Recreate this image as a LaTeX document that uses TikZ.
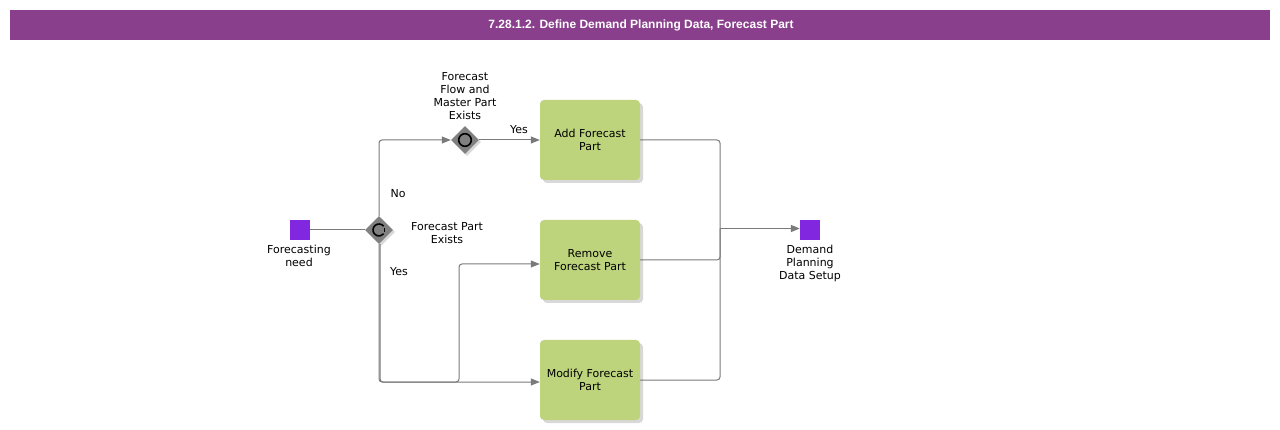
\documentclass[tikz,border=0pt]{standalone}
\usepackage{fontspec}
\setmainfont{DejaVu Sans}
\newfontfamily\titlefont{Liberation Sans}
\usetikzlibrary{shapes.geometric,arrows.meta,shadows}
\definecolor{titlebg}{HTML}{8A3F8C}
\definecolor{evpurple}{HTML}{8227E0}
\definecolor{taskgreen}{HTML}{BDD37C}
\definecolor{linegrey}{HTML}{7A7A7A}
\definecolor{gwgrey}{HTML}{808080}
\tikzset{
  x=1pt,y=-1pt,
  lbl/.style={font=\fontsize{11}{13}\selectfont, align=center, text=black, inner sep=0pt},
  taskbox/.style={draw=none, fill=taskgreen, rounded corners=4pt, minimum width=100pt, minimum height=80pt,
     inner sep=2pt, align=center, font=\fontsize{11}{13}\selectfont,
     drop shadow={shadow xshift=3pt, shadow yshift=-3pt, fill=black!30, opacity=0.5}},
  evbox/.style={draw=none, fill=evpurple, minimum width=20pt, minimum height=20pt, inner sep=0pt},
  gw/.style={diamond, draw=none, fill=gwgrey, minimum width=28pt, minimum height=28pt, inner sep=0pt,
     drop shadow={shadow xshift=2pt, shadow yshift=-2pt, fill=black!30, opacity=0.5}},
  flow/.style={draw=linegrey, line width=1pt, rounded corners=3pt},
  arr/.style={flow, -{Triangle[length=9pt,width=7pt]}},
}
\begin{document}
\begin{tikzpicture}
\useasboundingbox (0,0) rectangle (1280,430);
\fill[white] (0,0) rectangle (1280,430);
% title
\fill[titlebg] (10,10) rectangle (1270,40);
\node[font=\titlefont\bfseries\fontsize{12}{14}\selectfont, text=white] (title) at (641,25) {7.28.1.2. Define Demand Planning Data, Forecast Part};

% events
\node[evbox] (start) at (300,230) {};
\node[lbl, anchor=north] (startlbl) at (299,245) {Forecasting\\need};
\node[evbox] (end) at (810,230) {};
\node[lbl, anchor=north] (endlbl) at (810,245) {Demand\\Planning\\Data Setup};

% gateways
\node[gw] (g1) at (379,230) {};
\draw[black, line width=1.6pt] (g1.center) ++(40:6pt) arc (40:320:6pt);
\draw[black, line width=1.6pt] (g1.center) ++(-22:6pt) arc (-22:22:6pt);
\node[gw] (g2) at (465,140) {};
\draw[black, line width=1.6pt] (g2.center) circle (6.3pt);

\node[lbl, anchor=south] (g2lbl) at (465,120) {Forecast\\Flow and\\Master Part\\Exists};
\node[lbl] (g1lbl) at (447,233.5) {Forecast Part\\Exists};

% tasks
\node[taskbox] (add) at (590,140) {Add Forecast\\Part};
\node[taskbox] (remove) at (590,260) {Remove\\Forecast Part};
\node[taskbox] (modify) at (590,380) {Modify Forecast\\Part};

% connectors
\draw[flow] (start.east) -- (g1.west);
\draw[arr] (g1.north) |- (g2.west);
\draw[arr] (g2.east) -- (add.west);
\draw[arr] (g1.south) |- ([yshift=-2pt]modify.west);
\draw[arr] ([xshift=1pt]g1.south) -- (380,382) -- (459,382) |- ([yshift=-4pt]remove.west);

\coordinate (j) at (720,228.5);
\draw[flow] (add.east) -| (j);
\draw[flow] (remove.east) -| (j);
\draw[flow] (modify.east) -| (j);
\draw[arr, line width=1.6pt] (j) -- (end.west |- j);

% labels on flows
\node[lbl] (no) at (398,194) {No};
\node[lbl] (yes1) at (399,272) {Yes};
\node[lbl] (yes2) at (519,130) {Yes};
\end{tikzpicture}
\end{document}
